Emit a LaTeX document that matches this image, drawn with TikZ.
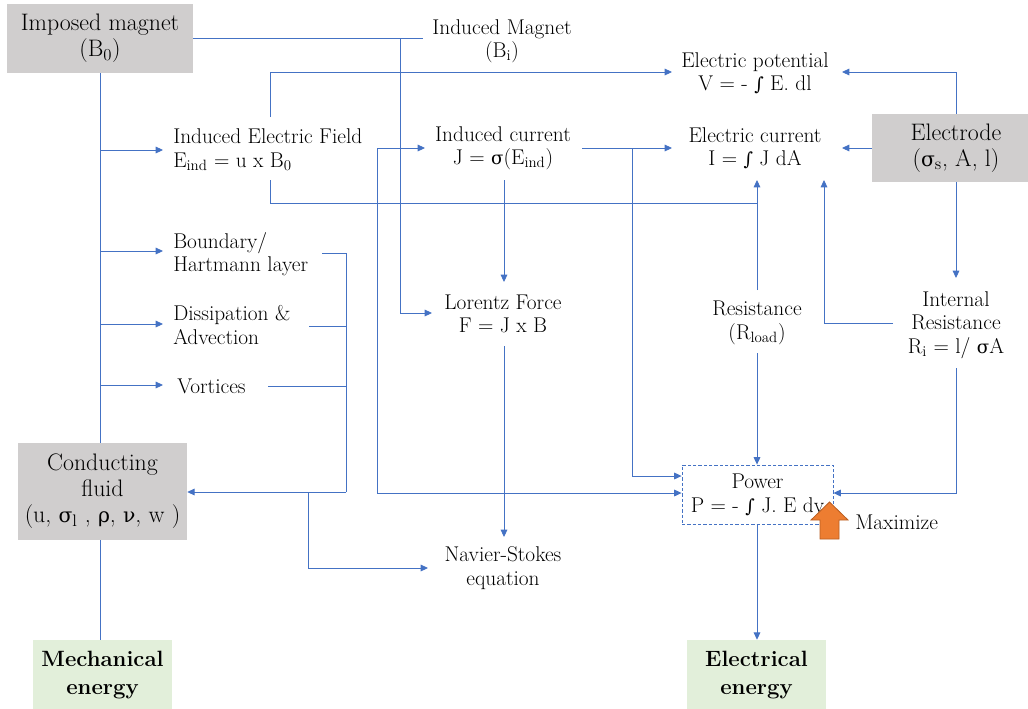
\documentclass[tikz,border=0pt]{standalone}
\usepackage{fontspec}
\newfontfamily\grk{DejaVu Serif}[Scale=0.85]
\newcommand{\gs}[1]{{\grk #1}}
\usetikzlibrary{arrows.meta}
\definecolor{lnblue}{HTML}{4472C4}
\definecolor{boxgray}{HTML}{D0CECE}
\definecolor{boxgreen}{HTML}{E2EFDA}
\definecolor{orgfill}{HTML}{ED7D31}
\definecolor{orgdraw}{HTML}{B85E22}
\begin{document}
\begin{tikzpicture}[x=0.75pt,y=-0.75pt,
 con/.style={draw=lnblue,line width=0.65pt},
 arr/.style={con,-{Triangle[length=5.5pt,width=5pt]}},
 txt/.style={inner sep=0pt,align=center,font=\fontsize{16}{17.5}\selectfont},
 txtl/.style={txt,align=left,anchor=west},
 graybox/.style={fill=boxgray,draw=none,inner sep=0pt,align=center,font=\fontsize{17.9}{19.5}\selectfont},
 greenbox/.style={fill=boxgreen,draw=none,inner sep=0pt,align=center,font=\fontsize{16.6}{21}\selectfont\bfseries},
 dashbox/.style={draw=lnblue,line width=0.65pt,dash pattern=on 2.5pt off 1.5pt,inner sep=0pt,align=center,font=\fontsize{16}{18}\selectfont}]
\useasboundingbox (0,0) rectangle (1028,708);
% boxes
\node[graybox,minimum width=139.5pt,minimum height=51.75pt] (imp) at (100,38.5) {Imposed magnet\\(B\textsubscript{0})};
\node[graybox,minimum width=126pt,minimum height=51pt] (electrode) at (956,148) {Electrode\\(\gs{σ}\textsubscript{s}, A, l)};
\node[graybox,minimum width=126.75pt,minimum height=72.75pt] (fluid) at (102.5,491.5) {Conducting\\fluid\\(u, \gs{σ}\textsubscript{l} , \gs{ρ}, \gs{ν}, w )};
\node[greenbox,minimum width=104.25pt,minimum height=52.5pt] (mech) at (102.5,675) {Mechanical\\energy};
\node[greenbox,minimum width=104.25pt,minimum height=52.5pt] (elec) at (756.5,675) {Electrical\\energy};
\node[dashbox,minimum width=113.25pt,minimum height=44.25pt] (power) at (757.5,494.5) {Power\\P = - \gs{∫} J. E dv};
% text nodes
\node[txt] (indmag) at (502,41) {Induced Magnet\\(B\textsubscript{i})};
\node[txt] (epot) at (755,73) {Electric potential\\V = - \gs{∫} E. dl};
\node[txt] (ecur) at (755,148) {Electric current\\I = \gs{∫} J dA};
\node[txtl] (efield) at (173,150) {Induced Electric Field\\E\textsubscript{ind} = u x B\textsubscript{0}};
\node[txt] (icur) at (503,148) {Induced current\\J = \gs{σ}(E\textsubscript{ind})};
\node[txtl] (bound) at (173,254) {Boundary/\\Hartmann layer};
\node[txtl] (diss) at (173,325) {Dissipation \&\\Advection};
\node[txtl] (vort) at (177,386) {Vortices};
\node[txt] (lor) at (503,314) {Lorentz Force\\F = J x B};
\node[txt] (res) at (757,323) {Resistance\\(R\textsubscript{load})};
\node[txt] (intres) at (956,325) {Internal\\Resistance\\R\textsubscript{i} = l/ \gs{σ}A};
\node[txt] (ns) at (503,568) {Navier-Stokes\\equation};
\node[txtl] (maxim) at (855,522) {Maximize};
% named junctions
\coordinate (jB) at (100,150);
\coordinate (jM) at (400,38.5);
\coordinate (jF) at (346,492);
\coordinate (jN) at (308,492);
\coordinate (jP) at (377,493);
\coordinate (jC) at (632,148);
% connectors
\draw[con] (imp.south) -- (imp.south |- fluid.north);
\draw[arr] (jB) -- (163,150);
\draw[arr] (100,251) -- (163,251);
\draw[arr] (100,324) -- (163,324);
\draw[arr] (100,385) -- (163,385);
\draw[con] (imp.east) -- (423,38.5);
\draw[arr] (jM) -- (400,313) -- (432,313);
\draw[arr] (270,117) -- (270,72) -- (672,72);
\draw[con] (270,180) -- (270,203) -- (757,203);
\draw[arr] (757,290) -- (757,180);
\draw[arr] (893,323) -- (824,323) -- (824,180);
\draw[arr] (electrode.north) -- (956,72) -- (842,72);
\draw[arr] (electrode.west) -- (842,148);
\draw[arr] (electrode.south) -- (956,278);
\draw[arr] (956,368) -- (956,493) -- (power.east |- 0,493);
\draw[arr] (582,148) -- (672,148);
\draw[arr] (jC) -- (632,476) -- (power.west |- 0,476);
\draw[arr] (jP) -- (377,148) -- (425,148);
\draw[arr] (jP) -- (power.west |- 0,493);
\draw[arr] (504,180) -- (504,282);
\draw[arr] (504,346) -- (504,537);
\draw[con] (322,253) -- (346,253) -- (jF);
\draw[con] (309,326) -- (346,326);
\draw[con] (268,386) -- (346,386);
\draw[arr] (jF) -- (fluid.east |- jF);
\draw[arr] (jN) -- (308,568) -- (428,568);
\draw[arr] (757,353) -- (power.north -| 757,0);
\draw[arr] (power.south -| 757,0) -- (elec.north -| 757,0);
\draw[con] (fluid.south -| 100,0) -- (mech.north -| 100,0);
% maximize block arrow
\filldraw[fill=orgfill,draw=orgdraw,line width=0.6pt] (820,539) -- (820,520) -- (811,520) -- (829.5,502) -- (848,520) -- (839,520) -- (839,539) -- cycle;
\end{tikzpicture}
\end{document}
